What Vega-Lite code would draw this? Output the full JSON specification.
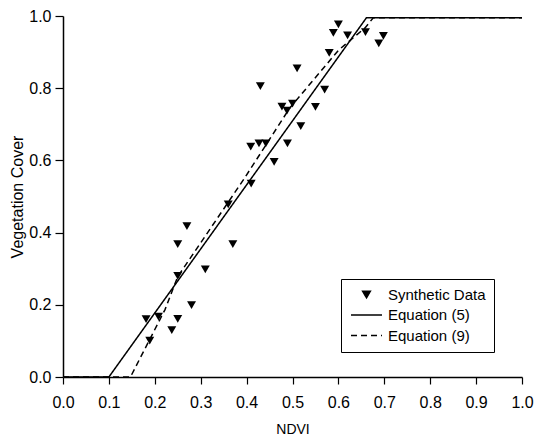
{
  "$schema": "https://vega.github.io/schema/vega-lite/v6.json",
  "width": 459,
  "height": 361,
  "autosize": {"type": "none"},
  "padding": {"left": 63, "top": 16, "right": 12, "bottom": 62},
  "background": "white",
  "config": {
    "view": {"stroke": null},
    "font": "Liberation Sans",
    "axis": {
      "grid": false,
      "domainColor": "black",
      "domainWidth": 1.5,
      "tickColor": "black",
      "tickWidth": 1.2,
      "labelColor": "black",
      "titleColor": "black",
      "labelFontSize": 16,
      "titleFontWeight": "normal",
      "labelFont": "Liberation Sans",
      "titleFont": "Liberation Sans"
    },
    "legend": {
      "orient": "none",
      "legendX": 278,
      "legendY": 263,
      "strokeColor": "black",
      "fillColor": "white",
      "padding": 8,
      "labelFontSize": 15,
      "labelColor": "black",
      "labelFont": "Liberation Sans",
      "symbolStrokeColor": "black",
      "symbolFillColor": "black",
      "symbolStrokeWidth": 1.5,
      "symbolSize": 60,
      "symbolOffset": 10,
      "rowPadding": 4.5,
      "labelOffset": 14
    }
  },
  "datasets": {
    "pts": [
      {"ndvi": 0.181, "cover": 0.160, "series": "Synthetic Data"},
      {"ndvi": 0.189, "cover": 0.101, "series": "Synthetic Data"},
      {"ndvi": 0.208, "cover": 0.167, "series": "Synthetic Data"},
      {"ndvi": 0.237, "cover": 0.130, "series": "Synthetic Data"},
      {"ndvi": 0.250, "cover": 0.161, "series": "Synthetic Data"},
      {"ndvi": 0.250, "cover": 0.368, "series": "Synthetic Data"},
      {"ndvi": 0.250, "cover": 0.280, "series": "Synthetic Data"},
      {"ndvi": 0.270, "cover": 0.418, "series": "Synthetic Data"},
      {"ndvi": 0.280, "cover": 0.199, "series": "Synthetic Data"},
      {"ndvi": 0.310, "cover": 0.298, "series": "Synthetic Data"},
      {"ndvi": 0.360, "cover": 0.478, "series": "Synthetic Data"},
      {"ndvi": 0.370, "cover": 0.368, "series": "Synthetic Data"},
      {"ndvi": 0.410, "cover": 0.536, "series": "Synthetic Data"},
      {"ndvi": 0.409, "cover": 0.638, "series": "Synthetic Data"},
      {"ndvi": 0.430, "cover": 0.806, "series": "Synthetic Data"},
      {"ndvi": 0.427, "cover": 0.647, "series": "Synthetic Data"},
      {"ndvi": 0.442, "cover": 0.647, "series": "Synthetic Data"},
      {"ndvi": 0.460, "cover": 0.596, "series": "Synthetic Data"},
      {"ndvi": 0.477, "cover": 0.749, "series": "Synthetic Data"},
      {"ndvi": 0.488, "cover": 0.738, "series": "Synthetic Data"},
      {"ndvi": 0.489, "cover": 0.647, "series": "Synthetic Data"},
      {"ndvi": 0.500, "cover": 0.757, "series": "Synthetic Data"},
      {"ndvi": 0.510, "cover": 0.855, "series": "Synthetic Data"},
      {"ndvi": 0.518, "cover": 0.695, "series": "Synthetic Data"},
      {"ndvi": 0.550, "cover": 0.748, "series": "Synthetic Data"},
      {"ndvi": 0.570, "cover": 0.796, "series": "Synthetic Data"},
      {"ndvi": 0.580, "cover": 0.898, "series": "Synthetic Data"},
      {"ndvi": 0.589, "cover": 0.953, "series": "Synthetic Data"},
      {"ndvi": 0.600, "cover": 0.977, "series": "Synthetic Data"},
      {"ndvi": 0.620, "cover": 0.946, "series": "Synthetic Data"},
      {"ndvi": 0.659, "cover": 0.955, "series": "Synthetic Data"},
      {"ndvi": 0.688, "cover": 0.924, "series": "Synthetic Data"},
      {"ndvi": 0.698, "cover": 0.945, "series": "Synthetic Data"}
    ],
    "lines": [
      {"ndvi": 0.0, "cover": 0.0, "series": "Equation (5)"},
      {"ndvi": 0.1, "cover": 0.0, "series": "Equation (5)"},
      {"ndvi": 0.661, "cover": 0.995, "series": "Equation (5)"},
      {"ndvi": 1.0, "cover": 0.995, "series": "Equation (5)"},
      {"ndvi": 0.0, "cover": 0.0, "series": "Equation (9)"},
      {"ndvi": 0.147, "cover": 0.0, "series": "Equation (9)"},
      {"ndvi": 0.222, "cover": 0.186, "series": "Equation (9)"},
      {"ndvi": 0.250, "cover": 0.278, "series": "Equation (9)"},
      {"ndvi": 0.394, "cover": 0.548, "series": "Equation (9)"},
      {"ndvi": 0.494, "cover": 0.745, "series": "Equation (9)"},
      {"ndvi": 0.600, "cover": 0.905, "series": "Equation (9)"},
      {"ndvi": 0.658, "cover": 0.967, "series": "Equation (9)"},
      {"ndvi": 0.676, "cover": 0.995, "series": "Equation (9)"},
      {"ndvi": 1.0, "cover": 0.995, "series": "Equation (9)"}
    ]
  },
  "layer": [
    {
      "data": {"name": "lines"},
      "mark": {"type": "line", "color": "black", "strokeWidth": 1.5, "clip": true},
      "encoding": {
        "x": {
          "field": "ndvi", "type": "quantitative",
          "scale": {"domain": [0, 1], "nice": false},
          "axis": {
            "title": "NDVI", "titleFontSize": 14, "titlePadding": 12,
            "values": [0, 0.1, 0.2, 0.3, 0.4, 0.5, 0.6, 0.7, 0.8, 0.9, 1.0],
            "format": ".1f", "tickSize": 7, "labelPadding": 10, "labelFlush": false
          }
        },
        "y": {
          "field": "cover", "type": "quantitative",
          "scale": {"domain": [0, 1], "nice": false},
          "axis": {
            "title": "Vegetation Cover", "titleFontSize": 16, "titlePadding": 3,
            "values": [0, 0.2, 0.4, 0.6, 0.8, 1.0],
            "format": ".1f", "tickSize": 8, "labelPadding": 4, "labelFlush": false
          }
        },
        "strokeDash": {
          "field": "series", "type": "nominal",
          "scale": {
            "domain": ["Synthetic Data", "Equation (5)", "Equation (9)"],
            "range": [[1, 0], [1, 0], [6, 4]]
          },
          "legend": {
            "title": null,
            "encode": {"symbols": {"update": {"stroke": {"value": "black"}, "strokeWidth": {"value": 1.5}, "fill": {"value": "black"}}}}
          }
        }
      }
    },
    {
      "data": {"name": "pts"},
      "mark": {"type": "point", "filled": true, "color": "black", "opacity": 1, "size": 80},
      "encoding": {
        "x": {"field": "ndvi", "type": "quantitative"},
        "y": {"field": "cover", "type": "quantitative"},
        "shape": {
          "field": "series", "type": "nominal",
          "scale": {
            "domain": ["Synthetic Data", "Equation (5)", "Equation (9)"],
            "range": ["triangle-down", "M-4,0H4", "M-4,0H4"]
          },
          "legend": {
            "title": null,
            "encode": {"symbols": {"update": {"stroke": {"value": "black"}, "strokeWidth": {"value": 1.5}, "fill": {"value": "black"}}}}
          }
        }
      }
    }
  ]
}
